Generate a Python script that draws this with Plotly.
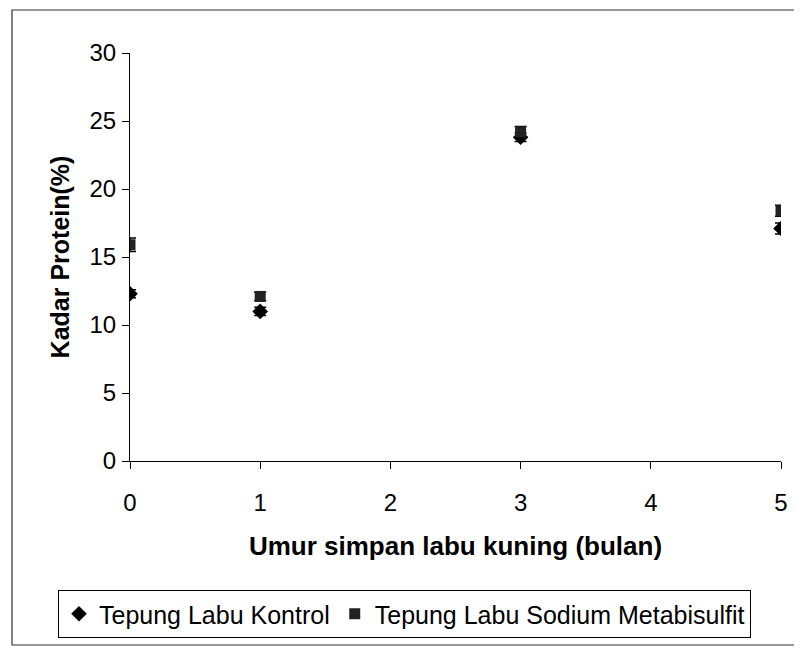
import plotly.graph_objects as go

months = [0, 1, 3, 5]
kontrol = [12.3, 11.0, 23.8, 17.1]
kontrol_err = [0.3, 0.3, 0.3, 0.4]
sodium = [15.9, 12.1, 24.2, 18.4]
sodium_err = [0.5, 0.3, 0.4, 0.4]

FONT = "Liberation Sans, Arial, sans-serif"

fig = go.Figure()
fig.add_trace(go.Scatter(
    x=months, y=kontrol, mode="markers", name="Tepung Labu Kontrol",
    marker=dict(symbol="diamond", size=12, color="black"),
    error_y=dict(type="data", array=kontrol_err, color="black", thickness=1.5, width=6),
))
fig.add_trace(go.Scatter(
    x=months, y=sodium, mode="markers", name="Tepung Labu Sodium Metabisulfit",
    marker=dict(symbol="square", size=11, color="#222222"),
    error_y=dict(type="data", array=sodium_err, color="black", thickness=1.5, width=6),
))

# page has an 8px body margin; work in page pixels then convert
OFF = 8
W, H = 794, 644
L, R, T, B = 130 - OFF, 781 - OFF, 53 - OFF, 461 - OFF
pw, ph = R - L, B - T

def px(x):
    return (x - OFF - L) / pw

def py(y):
    return (B - (y - OFF)) / ph

fig.add_shape(type="rect", xref="paper", yref="paper",
              x0=px(12), x1=px(812), y0=py(645), y1=py(10),
              line=dict(color="#333333", width=1.2), layer="below")

fig.update_layout(
    width=W, height=H,
    margin=dict(l=L, r=W - R, t=T, b=H - B),
    paper_bgcolor="white", plot_bgcolor="white",
    font=dict(family=FONT, color="black", size=24),
    showlegend=True,
    legend=dict(
        orientation="h", x=px(58), y=py(590), xanchor="left", yanchor="top",
        bordercolor="black", borderwidth=1, bgcolor="white",
        font=dict(size=25, family=FONT), itemwidth=30, tracegroupgap=0,
    ),
    xaxis=dict(
        range=[0, 5], tickvals=[0, 1, 2, 3, 4, 5], showgrid=False, zeroline=False,
        showline=True, linecolor="black", linewidth=1,
        ticks="outside", ticklen=7, tickcolor="black",
        ticklabelstandoff=13, tickfont=dict(size=24),
        title=dict(text="<b>Umur simpan labu kuning (bulan)</b>", font=dict(size=26), standoff=22),
    ),
    yaxis=dict(
        range=[0, 30], tickvals=[0, 5, 10, 15, 20, 25, 30], showgrid=False, zeroline=False,
        showline=True, linecolor="black", linewidth=1,
        ticks="outside", ticklen=7, tickcolor="black",
        ticklabelstandoff=1, tickfont=dict(size=24),
        title=dict(text="<b>Kadar Protein(%)</b>", font=dict(size=25), standoff=12),
    ),
)

fig.write_html("out.html")
